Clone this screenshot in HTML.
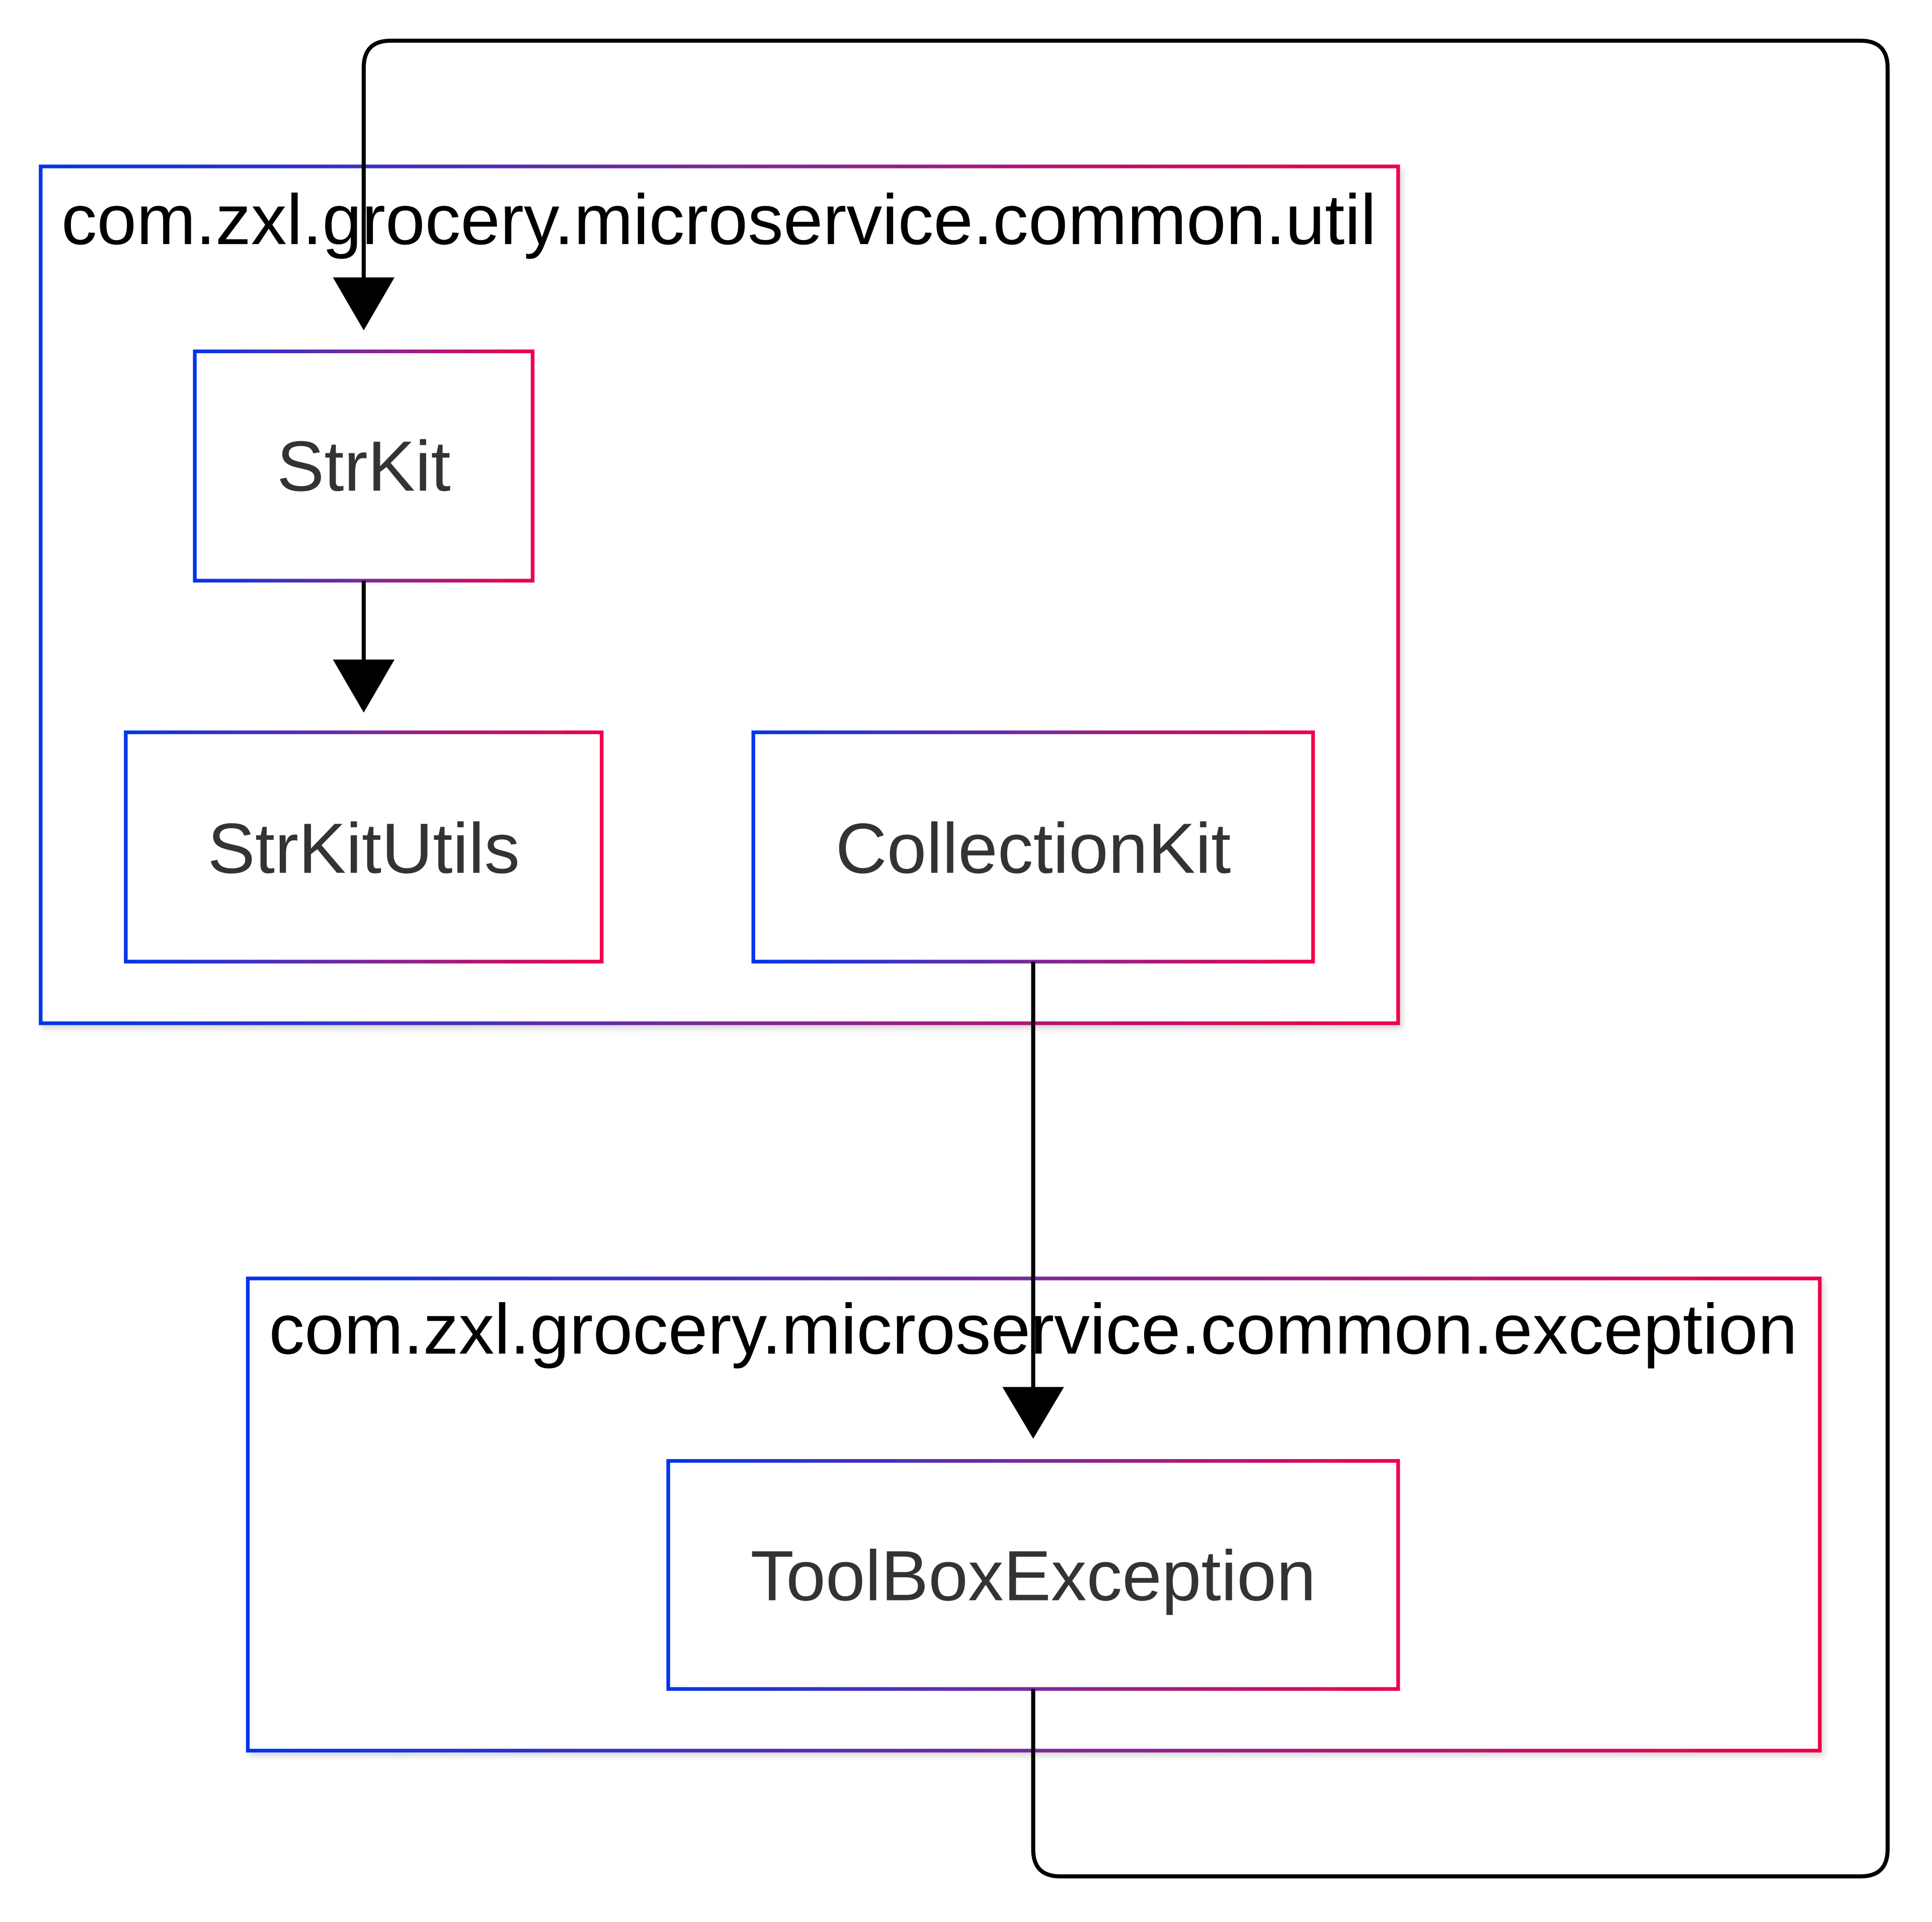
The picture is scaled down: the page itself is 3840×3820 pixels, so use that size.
<!DOCTYPE html>
<html><head><meta charset="utf-8"><style>
html,body{margin:0;padding:0;background:#fff;}
svg{display:block;}
</style></head><body>
<svg width="3840" height="3820" viewBox="0 0 1567 1559" preserveAspectRatio="none" xmlns="http://www.w3.org/2000/svg">
<defs>
<linearGradient id="g" x1="0" y1="0" x2="1" y2="0">
<stop offset="0" stop-color="#0036ea"/><stop offset="0.5" stop-color="#7a2a9a"/><stop offset="1" stop-color="#f0004a"/>
</linearGradient>
<filter id="s" x="-5%" y="-5%" width="110%" height="115%"><feDropShadow dx="2" dy="3" stdDeviation="2.5" flood-color="#000" flood-opacity="0.15"/></filter>
</defs>
<g fill="#fff" stroke="url(#g)" stroke-width="3" filter="url(#s)">
<rect x="33" y="135" width="1101" height="695"/>
<rect x="201" y="1037" width="1275" height="383"/>
<rect x="158" y="285" width="274" height="186"/>
<rect x="102" y="594" width="386" height="186"/>
<rect x="611" y="594" width="454" height="186"/>
<rect x="542" y="1185" width="592" height="185"/>
</g>
<g font-family="Liberation Sans, sans-serif" font-size="57.7" fill="#000">
<text x="583" y="198" text-anchor="middle">com.zxl.grocery.microservice.common.util</text>
<text x="838" y="1098" text-anchor="middle">com.zxl.grocery.microservice.common.exception</text>
</g>
<g font-family="Liberation Sans, sans-serif" font-size="57.7" fill="#333" text-anchor="middle">
<text x="295" y="398">StrKit</text>
<text x="295" y="708">StrKitUtils</text>
<text x="838" y="708">CollectionKit</text>
<text x="838" y="1298">ToolBoxException</text>
</g>
<g fill="none" stroke="#000" stroke-width="3.3">
<path d="M838 1370 V1500 Q838 1522 860 1522 H1509 Q1531 1522 1531 1500 V55 Q1531 33 1509 33 H317 Q295 33 295 55 V230"/>
<path d="M295 471 V540"/>
<path d="M838 780 V1130"/>
</g>
<g fill="#000">
<polygon points="270,225 320,225 295,268"/>
<polygon points="270,535 320,535 295,578"/>
<polygon points="813,1125 863,1125 838,1167"/>
</g>
</svg>
</body></html>
